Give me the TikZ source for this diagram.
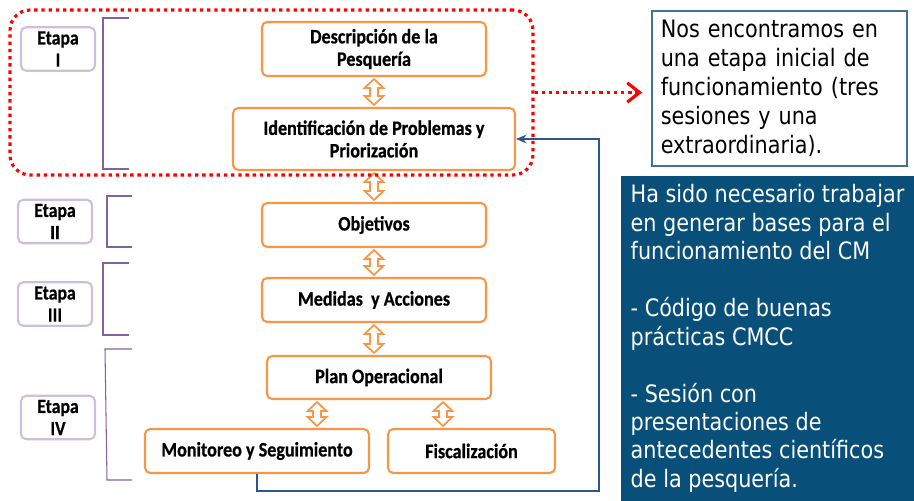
\documentclass[tikz,border=0pt]{standalone}
\usepackage{fontspec}
\usetikzlibrary{arrows.meta,calc}
\newfontfamily\boxfont[FakeStretch=0.88,BoldFeatures={FakeBold=0.6}]{Carlito}
\newfontfamily\notefont[FakeStretch=0.865]{DejaVu Sans}
\definecolor{boxorange}{RGB}{247,150,70}
\definecolor{stagelilac}{RGB}{204,192,218}
\definecolor{bracketpurple}{RGB}{128,100,162}
\definecolor{notedark}{RGB}{8,80,122}
\definecolor{noteedge}{RGB}{65,113,156}
\definecolor{loopblue}{RGB}{47,85,143}
% hollow up-down block arrow between two points
\newcommand\blockarrow[2]{%
  \draw[updown] ($(#1)+(0,2)$) -- ++(9.5,9) -- ++(-5.5,0) -- ($(#2)+(4,-11)$) -- ++(5.5,0)
    -- ($(#2)+(0,-2)$) -- ++(-9.5,-9) -- ++(5.5,0) -- ($(#1)+(-4,11)$) -- ++(-5.5,0) -- cycle;}

\begin{document}
\begin{tikzpicture}[x=0.02cm,y=-0.02cm,
  stepbox/.style={draw=boxorange, line width=1.2pt, rounded corners=3pt, fill=white, align=center, inner sep=0pt, minimum height=0.88cm, font=\boxfont\bfseries\fontsize{11.7pt}{12.8pt}\selectfont},
  stagebox/.style={draw=stagelilac, line width=1.2pt, rounded corners=3pt, fill=white, align=center, inner sep=0pt, minimum width=1.48cm, minimum height=0.87cm, font=\boxfont\bfseries\fontsize{11.5pt}{12.6pt}\selectfont},
  bracket/.style={draw=bracketpurple, line width=0.6pt},
  updown/.style={draw=boxorange, fill=white, line width=1pt, line join=miter},
  stageframe/.style={draw=red, line width=1.8pt, dash pattern=on 1.9pt off 2.2pt, rounded corners=0.4cm},
  stagelink/.style={draw=red, line width=1.8pt, dash pattern=on 1.9pt off 2.2pt, shorten >=0.18cm, -{Straight Barb[length=7pt,width=11pt]}},
  notebox/.style={draw=noteedge, line width=1pt, inner sep=0pt, minimum width=5.1cm, minimum height=3.1cm, text width=4.75cm, align=left, font=\notefont\fontsize{13.66pt}{16.5pt}\selectfont},
  darknote/.style={fill=notedark, text=white, inner sep=0pt, minimum width=5.86cm, minimum height=6.5cm, align=left, font=\notefont\fontsize{13.66pt}{16.2pt}\selectfont},
  loopline/.style={draw=loopblue, line width=1pt, -{Stealth[length=6pt,width=5pt]}}]
\useasboundingbox (0,0) rectangle (914,501);

% etapas
\node[stagebox] (etapa1) at (58,49) {Etapa\\I};
\node[stagebox] (etapa2) at (55,221.5) {Etapa\\II};
\node[stagebox] (etapa3) at (55,304) {Etapa\\III};
\node[stagebox] (etapa4) at (58,417.5) {Etapa\\IV};
\draw[bracket] (129,18) -- (103,18) -- (103,169) -- (129,169);
\draw[bracket] (132,196) -- (107,196) -- (107,247) -- (132,247);
\draw[bracket] (129,263) -- (103,263) -- (103,335) -- (129,335);
\draw[bracket] (132,349) -- (105,349) -- (107,480) -- (132,480);

% pasos
\node[stepbox, minimum width=4.48cm, minimum height=1.08cm] (desc) at (374,49) {Descripción de la\\Pesquería};
\node[stepbox, minimum width=5.64cm, minimum height=1.24cm] (ident) at (374,139) {Identificación de Problemas y\\Priorización};
\node[stepbox, minimum width=4.48cm] (obj) at (374,225) {Objetivos};
\node[stepbox, minimum width=4.48cm] (med) at (374,300) {Medidas\ \ y Acciones};
\node[stepbox, minimum width=4.48cm, minimum height=0.86cm] (plan) at (379,377.5) {Plan Operacional};
\node[stepbox, minimum width=4.48cm] (mon) at (257,451) {Monitoreo y Seguimiento};
\node[stepbox, minimum width=3.34cm] (fisc) at (471.5,451) {Fiscalización};

\coordinate (monlink) at (317,0);
\coordinate (fisclink) at (443,0);
\blockarrow{desc.south}{ident.north}
\blockarrow{ident.south}{obj.north}
\blockarrow{obj.south}{med.north}
\blockarrow{med.south}{med.south |- plan.north}
\blockarrow{plan.south -| monlink}{mon.north -| monlink}
\blockarrow{plan.south -| fisclink}{fisc.north -| fisclink}

% retorno
\coordinate (loopturn) at (599,491);
\draw[loopline] (mon.south) |- (loopturn) |- (ident.east);

% notas
\node[notebox] (stagenote) at (779.5,88.5) {Nos encontramos en\\una etapa inicial de\\funcionamiento (tres\\sesiones y una\\extraordinaria).};
\node[darknote] (basenote) at (767.5,338.5) {Ha sido necesario trabajar\\en generar bases para el\\funcionamiento del CM\\[16.2pt]- Código de buenas\\prácticas CMCC\\[16.2pt]- Sesión con\\presentaciones de\\antecedentes científicos\\de la pesquería.};

\node[stageframe, minimum width=10.46cm, minimum height=3.3cm] (stageone) at (271.5,92.5) {};
\draw[stagelink] (stageone.east) -- (stageone.east -| stagenote.west);

\end{tikzpicture}
\end{document}
